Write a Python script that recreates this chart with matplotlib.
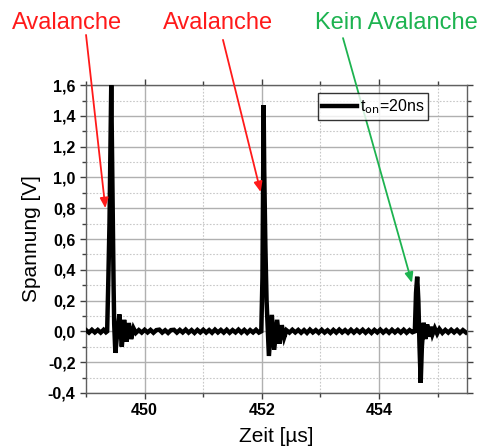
import matplotlib
matplotlib.use("Agg")
import matplotlib.pyplot as plt
from matplotlib.ticker import MultipleLocator, FuncFormatter

plt.rcParams['font.family'] = ['Liberation Sans', 'DejaVu Sans']

# ---- data ----
time_us = [
    # baseline before pulse 1
    449.00, 449.05, 449.10, 449.15, 449.20, 449.25, 449.30, 449.34,
    # pulse 1 (avalanche)
    449.36, 449.38, 449.40, 449.43, 449.45, 449.46, 449.47, 449.48, 449.50,
    449.53, 449.57, 449.61, 449.65, 449.69, 449.73, 449.77, 449.81, 449.85,
    # baseline
    449.90, 449.95, 450.00, 450.05, 450.10, 450.15, 450.20, 450.25, 450.30,
    450.35, 450.40, 450.45, 450.50, 450.55, 450.60, 450.65, 450.70, 450.75,
    450.80, 450.85, 450.90, 450.95, 451.00, 451.05, 451.10, 451.15, 451.20,
    451.25, 451.30, 451.35, 451.40, 451.45, 451.50, 451.55, 451.60, 451.65,
    451.70, 451.75, 451.80, 451.85, 451.90, 451.95,
    # pulse 2 (avalanche)
    451.99, 452.01, 452.02, 452.03, 452.04, 452.06, 452.08, 452.10, 452.12,
    452.17, 452.21, 452.26, 452.30, 452.34, 452.38, 452.42,
    # baseline
    452.47, 452.52, 452.57, 452.62, 452.67, 452.72, 452.77, 452.82, 452.87,
    452.92, 452.97, 453.02, 453.07, 453.12, 453.17, 453.22, 453.27, 453.32,
    453.37, 453.42, 453.47, 453.52, 453.57, 453.62, 453.67, 453.72, 453.77,
    453.82, 453.87, 453.92, 453.97, 454.02, 454.07, 454.12, 454.17, 454.22,
    454.27, 454.32, 454.37, 454.42, 454.47, 454.52, 454.57,
    # pulse 3 (no avalanche)
    454.61, 454.63, 454.65, 454.67, 454.69, 454.71, 454.73, 454.76, 454.79,
    454.82, 454.85, 454.88, 454.91, 454.95, 454.99, 455.03, 455.08,
    # baseline
    455.13, 455.18, 455.23, 455.28, 455.33, 455.38, 455.43, 455.48,
]
voltage_V = [
    0.008, -0.008, 0.010, -0.007, 0.009, -0.008, 0.010, -0.006,
    0.000, 0.33, 0.70, 1.60, 0.92, 0.62, 0.30, 0.05, -0.14,
    -0.02, 0.11, -0.10, 0.075, -0.067, 0.054, -0.05, 0.02, -0.01,
    0.008, -0.008, 0.010, -0.007, 0.009, -0.009, 0.008, 0.011, -0.008,
    0.007, -0.010, 0.008, 0.010, -0.008, 0.009, -0.007, 0.011, -0.008,
    0.008, -0.010, 0.009, -0.007, 0.010, -0.008, 0.008, -0.009, 0.011,
    -0.007, 0.009, -0.008, 0.010, -0.009, 0.008, -0.007, 0.011, -0.008,
    0.009, -0.010, 0.008, -0.007, 0.010, -0.008,
    0.000, 0.35, 0.90, 1.47, 1.05, 0.55, 0.20, 0.02, -0.16,
    0.107, -0.12, 0.075, -0.08, 0.04, -0.04, 0.007,
    -0.008, 0.010, -0.007, 0.009, -0.009, 0.008, -0.010, 0.011, -0.007,
    0.008, -0.009, 0.010, -0.008, 0.007, -0.010, 0.009, -0.008, 0.011,
    -0.007, 0.008, -0.009, 0.010, -0.008, 0.009, -0.007, 0.010, -0.009,
    0.008, -0.010, 0.009, -0.007, 0.011, -0.008, 0.008, -0.009, 0.010,
    -0.007, 0.009, -0.008, 0.010, -0.009, 0.008, -0.006,
    0.000, 0.25, 0.355, 0.20, -0.10, -0.335, -0.10, 0.056, -0.05,
    0.045, -0.035, 0.03, -0.02, 0.02, -0.015, 0.015, -0.01,
    0.009, -0.008, 0.010, -0.007, 0.009, -0.010, 0.008, -0.007,
]
legend_label = r"t$_{\mathrm{on}}$=20ns"
annotations = [
    # (text, colour, text centre in figure fraction, arrow start in figure fraction, arrow tip in data)
    ("Avalanche", "#ff1a1a", (0.141, 0.949), (0.180, 0.922), (449.33, 0.80)),
    ("Avalanche", "#ff1a1a", (0.456, 0.949), (0.4665, 0.911), (451.98, 0.905)),
    ("Kein Avalanche", "#1db350", (0.8295, 0.949), (0.7176, 0.915), (454.56, 0.315)),
]

fig = plt.figure(figsize=(4.78, 4.48), dpi=100)
ax = fig.add_axes([0.180, 0.123, 0.797, 0.687])

ax.plot(time_us, voltage_V, color="black", lw=3.2, solid_joinstyle="miter",
        label=legend_label, zorder=3)

ax.set_xlim(449.0, 455.5)
ax.set_ylim(-0.4, 1.6)
ax.xaxis.set_major_locator(MultipleLocator(2))
ax.xaxis.set_minor_locator(MultipleLocator(1))
ax.yaxis.set_major_locator(MultipleLocator(0.2))
ax.yaxis.set_minor_locator(MultipleLocator(0.1))
ax.yaxis.set_major_formatter(FuncFormatter(
    lambda v, p: f"{v:.1f}".replace(".", ",").replace("−", "-").replace("-0,0", "0,0")))
ax.xaxis.set_major_formatter(FuncFormatter(lambda v, p: f"{v:.0f}"))

ax.grid(which="major", color="#b0b0b0", lw=1.0, ls="-", zorder=0)
ax.grid(which="minor", color="#c8c8c8", lw=0.8, ls=(0, (1.5, 1.5)), zorder=0)
ax.set_axisbelow(True)

for s in ax.spines.values():
    s.set_color("#606060")
    s.set_linewidth(1.0)
ax.tick_params(which="both", direction="out", top=True, right=True,
               color="#404040", width=1.0)
ax.tick_params(which="major", length=4)
ax.tick_params(which="minor", length=3)
ax.tick_params(labeltop=False, labelright=False)
for lab in ax.get_xticklabels() + ax.get_yticklabels():
    lab.set_fontweight("bold")
    lab.set_fontsize(11.5)

ax.set_xlabel("Zeit [µs]", fontsize=15, labelpad=6)
ax.set_ylabel("Spannung [V]", fontsize=15, labelpad=5)

leg = ax.legend(loc="upper right", bbox_to_anchor=(0.898, 0.974), frameon=True,
                fancybox=False, fontsize=11.5, handlelength=2.2, handletextpad=0.15,
                borderpad=0.25, borderaxespad=0.0)
leg.get_frame().set_edgecolor("black")
leg.get_frame().set_linewidth(1.0)

for text, col, tpos, apos, tip in annotations:
    fig.text(tpos[0], tpos[1], text, color=col, fontsize=17, ha="center", va="center")
    ax.annotate("", xy=tip, xycoords="data",
                xytext=apos, textcoords="figure fraction",
                arrowprops=dict(arrowstyle="-|>,head_length=0.6,head_width=0.25",
                                color=col, lw=1.3, shrinkA=0, shrinkB=0),
                annotation_clip=False)

fig.savefig("out.png", dpi=100)
